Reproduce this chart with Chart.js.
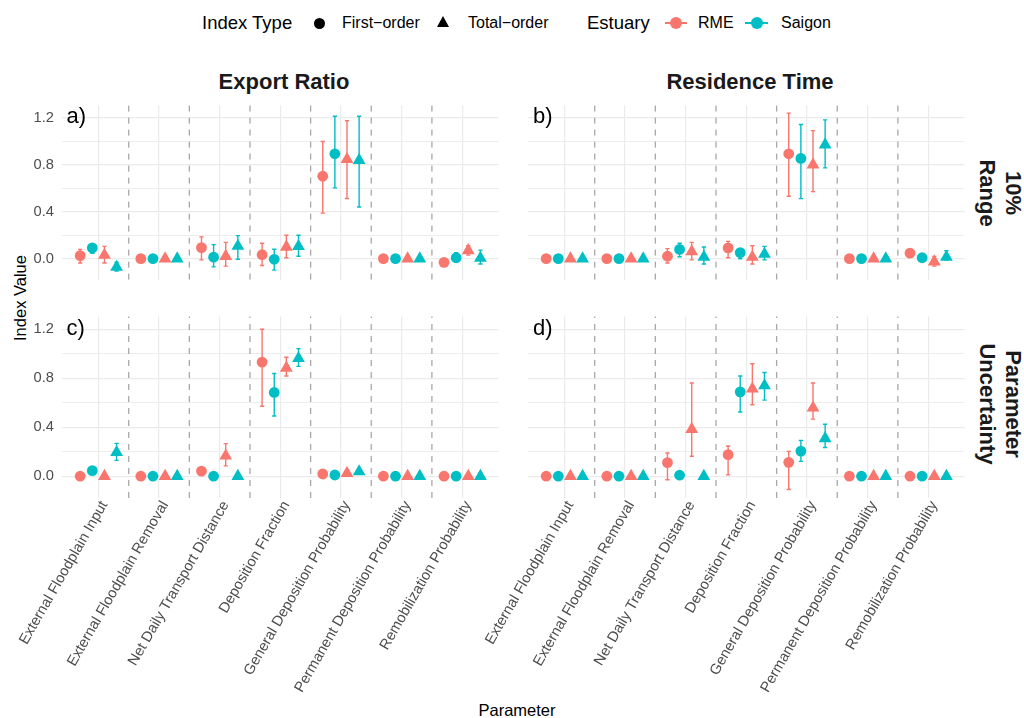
<!DOCTYPE html>
<html>
<head>
<meta charset="utf-8">
<script src="https://cdn.jsdelivr.net/npm/chart.js@4.4.1/dist/chart.umd.min.js"></script>
<style>
  body { margin: 0; background: #fff; }
  #wrap { position: relative; width: 1024px; height: 718px; overflow: hidden;
          font-family: "Liberation Sans", Arial, sans-serif; color: #000; }
  canvas { position: absolute; }
  .txt { position: absolute; white-space: nowrap; line-height: 1; transform: translateY(-50%); }
  .ctr { transform: translate(-50%, -50%); }
  .strip { font-weight: bold; font-size: 22px; color: #1A1A1A; }
  .tag { font-size: 22px; }
  .dot { position: absolute; border-radius: 50%; }
  .tri { position: absolute; width: 0; height: 0; border-left: 6.5px solid transparent;
         border-right: 6.5px solid transparent; border-bottom: 11px solid #000; }
  .keyline { position: absolute; height: 1.5px; }
</style>
</head>
<body>
<div id="wrap">
  <!-- legend -->
  <div class="txt" style="left:202px; top:23px; font-size:18.5px">Index Type</div>
  <div class="dot" style="left:313.5px; top:17.5px; width:11px; height:11px; background:#000"></div>
  <div class="txt" style="left:342px; top:23px; font-size:16px">First−order</div>
  <div class="tri" style="left:436.5px; top:15.5px"></div>
  <div class="txt" style="left:468px; top:23px; font-size:16px">Total−order</div>
  <div class="txt" style="left:587px; top:23px; font-size:18.5px">Estuary</div>
  <div class="keyline" style="left:665px; top:22px; width:22px; background:#F8766D"></div>
  <div class="dot" style="left:670px; top:16.8px; width:12px; height:12px; background:#F8766D"></div>
  <div class="txt" style="left:698px; top:23px; font-size:16px">RME</div>
  <div class="keyline" style="left:745px; top:22px; width:23px; background:#00BFC4"></div>
  <div class="dot" style="left:750.5px; top:16.8px; width:12px; height:12px; background:#00BFC4"></div>
  <div class="txt" style="left:781px; top:23px; font-size:16px">Saigon</div>

  <!-- strips -->
  <div class="txt ctr strip" style="left:284px; top:82px">Export Ratio</div>
  <div class="txt ctr strip" style="left:750px; top:82px">Residence Time</div>
  <div class="txt strip" style="left:1000px; top:192.5px; line-height:25.5px; text-align:center; transform:translate(-50%,-50%) rotate(90deg)">10%<br>Range</div>
  <div class="txt strip" style="left:1000px; top:403.5px; line-height:25.5px; text-align:center; transform:translate(-50%,-50%) rotate(90deg)">Parameter<br>Uncertainty</div>

  <!-- axis titles -->
  <div class="txt" style="left:20px; top:298px; font-size:16.5px; transform:translate(-50%,-50%) rotate(-90deg)">Index Value</div>
  <div class="txt ctr" style="left:517px; top:710px; font-size:16.5px">Parameter</div>

  <canvas id="pa" width="506" height="189" style="left:0; top:98px"></canvas>
  <canvas id="pb" width="494" height="189" style="left:478px; top:98px"></canvas>
  <canvas id="pc" width="506" height="409" style="left:0; top:309px"></canvas>
  <canvas id="pd" width="494" height="409" style="left:478px; top:309px"></canvas>

  <div class="txt tag" style="left:66.5px; top:116px">a)</div>
  <div class="txt tag" style="left:533px; top:116px">b)</div>
  <div class="txt tag" style="left:66.5px; top:328px">c)</div>
  <div class="txt tag" style="left:533px; top:328px">d)</div>
</div>

<script>
const categories = [
  'External Floodplain Input', 'External Floodplain Removal', 'Net Daily Transport Distance',
  'Deposition Fraction', 'General Deposition Probability', 'Permanent Deposition Probability',
  'Remobilization Probability'
];
const yTicks = [0, 0.2, 0.4, 0.6, 0.8, 1.0, 1.2];
const yLabelTicks = [0, 0.4, 0.8, 1.2];

// [value, lower, upper] per parameter
// a) Export Ratio, 10% Range
const exportRangeRmeFirst    = [[0.026,-0.037,0.079],[0,0,0],[0.094,-0.01,0.186],[0.034,-0.058,0.131],[0.702,0.388,0.998],[0,0,0],[-0.031,-0.031,-0.031]];
const exportRangeSaigonFirst = [[0.092,0.045,0.126],[0,0,0],[0.013,-0.07,0.12],[-0.005,-0.097,0.081],[0.893,0.603,1.213],[0,0,0],[0.008,-0.03,0.05]];
const exportRangeRmeTotal    = [[0.031,-0.037,0.105],[0,0,0],[0.021,-0.063,0.139],[0.10,0.008,0.199],[0.846,0.513,1.174],[0,0,0],[0.07,0.03,0.11]];
const exportRangeSaigonTotal = [[-0.071,-0.105,-0.03],[0,0,0],[0.107,-0.005,0.196],[0.105,0.021,0.199],[0.838,0.44,1.213],[0,0,0],[0.005,-0.045,0.073]];
// b) Residence Time, 10% Range
const residRangeRmeFirst     = [[0,0,0],[0,0,0],[0.021,-0.037,0.086],[0.092,0.008,0.147],[0.893,0.532,1.239],[0,0,0],[0.047,0.03,0.07]];
const residRangeSaigonFirst  = [[0,0,0],[0,0,0],[0.079,0.016,0.131],[0.052,0.0,0.079],[0.854,0.511,1.142],[0,0,0],[0.008,0.008,0.008]];
const residRangeRmeTotal     = [[0,0,0],[0,0,0],[0.06,-0.01,0.139],[0.013,-0.045,0.11],[0.80,0.571,1.09],[0,0,0],[-0.026,-0.063,0.02]];
const residRangeSaigonTotal  = [[0,0,0],[0,0,0],[0.013,-0.045,0.10],[0.039,-0.01,0.105],[0.97,0.773,1.182],[0,0,0],[0.013,-0.01,0.068]];
// c) Export Ratio, Parameter Uncertainty
const exportUncRmeFirst      = [[0,0,0],[0,0,0],[0.042,0.042,0.042],[0.932,0.571,1.2],[0.018,0.018,0.018],[0,0,0],[0,0,0]];
const exportUncSaigonFirst   = [[0.045,0.045,0.045],[0,0,0],[0,0,0],[0.684,0.492,0.839],[0.01,0.01,0.01],[0,0,0],[0,0,0]];
const exportUncRmeTotal      = [[0,0,0],[0,0,0],[0.166,0.084,0.266],[0.884,0.818,0.971],[0.024,0.024,0.024],[0,0,0],[0,0,0]];
const exportUncSaigonTotal   = [[0.195,0.129,0.268],[0,0,0],[0,0,0],[0.963,0.897,1.042],[0.037,0.037,0.037],[0,0,0],[0,0,0]];
// d) Residence Time, Parameter Uncertainty
const residUncRmeFirst       = [[0,0,0],[0,0,0],[0.111,-0.029,0.189],[0.176,0.011,0.247],[0.113,-0.108,0.203],[0,0,0],[0,0,0]];
const residUncSaigonFirst    = [[0,0,0],[0,0,0],[0.008,0.008,0.008],[0.689,0.524,0.818],[0.205,0.121,0.292],[0,0,0],[0,0,0]];
const residUncRmeTotal       = [[0,0,0],[0,0,0],[0.384,0.163,0.761],[0.713,0.584,0.918],[0.558,0.466,0.761],[0,0,0],[0,0,0]];
const residUncSaigonTotal    = [[0,0,0],[0,0,0],[0,0,0],[0.74,0.621,0.847],[0.308,0.234,0.424],[0,0,0],[0,0,0]];

const FONT = '"Liberation Sans", Arial, sans-serif';
const RME = '#F8766D', SAIGON = '#00BFC4';
// series order: RME first, Saigon first, RME total, Saigon total (dodged)
const seriesStyle = [
  { color: RME,    shape: 'circle',   r: 5.4, dx: -0.3 },
  { color: SAIGON, shape: 'circle',   r: 5.4, dx: -0.1 },
  { color: RME,    shape: 'triangle', r: 7.4, dx:  0.1 },
  { color: SAIGON, shape: 'triangle', r: 7.4, dx:  0.3 }
];
const separators = categories.slice(1).map((_, i) => i + 1.5);
const capHalf = 0.035;

const facetExtras = {
  id: 'facetExtras',
  beforeDatasetsDraw(chart) {
    const { ctx, chartArea, scales: { x, y } } = chart;
    ctx.save();
    ctx.strokeStyle = '#A8A8A8';
    ctx.lineWidth = 1.3;
    ctx.setLineDash([6, 6]);
    separators.forEach(s => {
      const px = x.getPixelForValue(s);
      ctx.beginPath();
      ctx.moveTo(px, chartArea.bottom);
      ctx.lineTo(px, chartArea.top);
      ctx.stroke();
    });
    ctx.setLineDash([]);
    ctx.lineWidth = 1.4;
    chart.data.datasets.forEach(ds => {
      ctx.strokeStyle = ds.backgroundColor;
      ds.data.forEach(p => {
        if (p.hi - p.lo < 1e-9) return;
        const px = x.getPixelForValue(p.x);
        const cw = x.getPixelForValue(p.x + capHalf) - px;
        const top = y.getPixelForValue(p.hi), bot = y.getPixelForValue(p.lo);
        ctx.beginPath();
        ctx.moveTo(px, top); ctx.lineTo(px, bot);
        ctx.moveTo(px - cw, top); ctx.lineTo(px + cw, top);
        ctx.moveTo(px - cw, bot); ctx.lineTo(px + cw, bot);
        ctx.stroke();
      });
    });
    ctx.restore();
  }
};

function isMajor(v) { return yLabelTicks.some(t => Math.abs(t - v) < 1e-9); }

function makePanel(id, series, yLabels, xLabels) {
  const datasets = series.map((rows, si) => {
    const st = seriesStyle[si];
    return {
      data: rows.map((r, ci) => ({ x: ci + 1 + st.dx, y: r[0], lo: r[1], hi: r[2] })),
      backgroundColor: st.color,
      borderWidth: 0,
      pointStyle: st.shape,
      pointRadius: st.r,
      pointHoverRadius: st.r
    };
  });
  return new Chart(document.getElementById(id), {
    type: 'scatter',
    data: { datasets },
    options: {
      responsive: false,
      animation: false,
      devicePixelRatio: 1,
      events: [],
      layout: { padding: 0 },
      plugins: { legend: { display: false }, tooltip: { enabled: false } },
      scales: {
        x: {
          type: 'linear', min: 0.4, max: 7.6,
          afterBuildTicks: s => { s.ticks = categories.map((c, i) => ({ value: i + 1 })); },
          afterFit: s => { s.height = xLabels ? 220 : 0; s.paddingLeft = 0; s.paddingRight = 0; },
          grid: { color: '#EBEBEB', lineWidth: 1.2, drawTicks: false },
          border: { display: false },
          ticks: {
            display: xLabels, autoSkip: false, minRotation: 60, maxRotation: 60,
            padding: 0, labelOffset: 6,
            color: '#4D4D4D', font: { family: FONT, size: 14.7 },
            callback: v => categories[Math.round(v) - 1]
          }
        },
        y: {
          min: -0.178, max: 1.305,
          afterBuildTicks: s => { s.ticks = yTicks.map(v => ({ value: v })); },
          afterFit: s => { s.width = yLabels ? 62 : 50; s.paddingTop = 0; s.paddingBottom = 0; },
          grid: { color: '#EBEBEB', lineWidth: c => isMajor(c.tick.value) ? 1.2 : 0.9, drawTicks: false },
          border: { display: false },
          ticks: {
            display: yLabels, padding: 8, color: '#4D4D4D', font: { family: FONT, size: 14.7 },
            callback: v => isMajor(v) ? v.toFixed(1) : ''
          }
        }
      }
    },
    plugins: [facetExtras]
  });
}

makePanel('pa', [exportRangeRmeFirst, exportRangeSaigonFirst, exportRangeRmeTotal, exportRangeSaigonTotal], true, false);
makePanel('pb', [residRangeRmeFirst, residRangeSaigonFirst, residRangeRmeTotal, residRangeSaigonTotal], false, false);
makePanel('pc', [exportUncRmeFirst, exportUncSaigonFirst, exportUncRmeTotal, exportUncSaigonTotal], true, true);
makePanel('pd', [residUncRmeFirst, residUncSaigonFirst, residUncRmeTotal, residUncSaigonTotal], false, true);
</script>
</body>
</html>
